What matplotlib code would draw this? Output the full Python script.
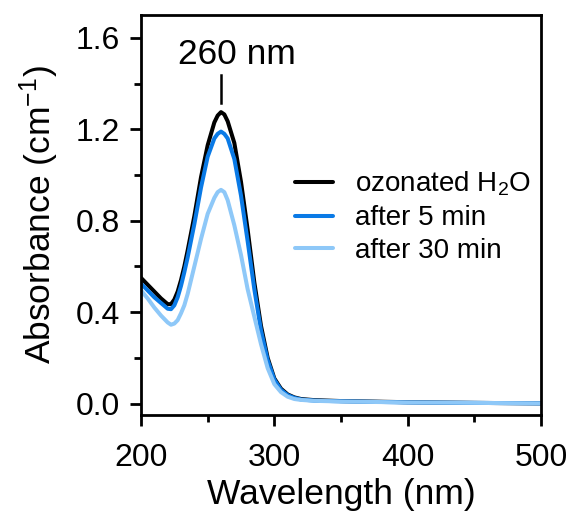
import numpy as np
import matplotlib
matplotlib.use('Agg')
import matplotlib.pyplot as plt

plt.rcParams['font.family'] = ['Liberation Sans', 'DejaVu Sans']
plt.rcParams['mathtext.fontset'] = 'custom'
plt.rcParams['mathtext.rm'] = 'Liberation Sans'
plt.rcParams['mathtext.default'] = 'regular'

# Wavelength grid (nm) and absorbance spectra (cm^-1)
wavelength = [200, 205, 210, 215, 220, 222.5, 225, 227.5, 230, 232.5, 235, 240,
              245, 250, 255, 257.5, 260, 262.5, 265, 270, 275, 280, 285, 290,
              295, 300, 305, 310, 315, 320, 330, 350, 400, 450, 500]
abs_ozonated = [0.55, 0.52, 0.49, 0.46, 0.435, 0.435, 0.455, 0.49, 0.54, 0.60,
                0.67, 0.82, 0.99, 1.13, 1.23, 1.26, 1.275, 1.265, 1.235, 1.14,
                0.97, 0.76, 0.53, 0.34, 0.20, 0.11, 0.065, 0.04, 0.027, 0.02,
                0.015, 0.011, 0.006, 0.003, 0.001]
abs_5min = [0.525, 0.495, 0.465, 0.44, 0.415, 0.413, 0.43, 0.465, 0.515, 0.575,
            0.64, 0.785, 0.945, 1.08, 1.16, 1.18, 1.19, 1.18, 1.16, 1.07,
            0.91, 0.71, 0.50, 0.32, 0.19, 0.105, 0.06, 0.037, 0.025, 0.018,
            0.013, 0.01, 0.005, 0.003, 0.001]
abs_30min = [0.495, 0.46, 0.42, 0.385, 0.355, 0.345, 0.35, 0.365, 0.395, 0.43,
             0.48, 0.60, 0.72, 0.83, 0.90, 0.925, 0.935, 0.925, 0.89, 0.78,
             0.65, 0.50, 0.38, 0.26, 0.155, 0.085, 0.05, 0.03, 0.02, 0.016,
             0.012, 0.009, 0.005, 0.003, 0.001]

labels = ['ozonated H$_2$O', 'after 5 min', 'after 30 min']
colors = ['#000000', '#0a7ae6', '#8ec8f8']

fig = plt.figure(figsize=(5.76, 5.18), dpi=100)
ax = fig.add_axes([141 / 576, 1 - 415 / 518, 400 / 576, 400 / 518])

for y, lab, c in zip([abs_ozonated, abs_5min, abs_30min], labels, colors):
    ax.plot(wavelength, y, color=c, lw=2.9, label=lab,
            solid_joinstyle='round', solid_capstyle='round')

ax.set_xlim(200, 500)
ax.set_ylim(-0.05, 1.70)
ax.set_xticks([200, 300, 400, 500])
ax.set_xticks([250, 350, 450], minor=True)
ax.set_yticks([0.0, 0.4, 0.8, 1.2, 1.6])
ax.set_yticks([0.2, 0.6, 1.0, 1.4], minor=True)
ax.set_yticklabels(['0.0', '0.4', '0.8', '1.2', '1.6'])

for s in ax.spines.values():
    s.set_linewidth(2.0)
ax.tick_params(which='major', direction='out', length=8, width=2.0, labelsize=23)
ax.tick_params(axis='x', which='major', pad=12)
ax.tick_params(axis='y', which='major', pad=7)
ax.tick_params(which='minor', direction='out', length=5, width=2.0)

ax.set_xlabel('Wavelength (nm)', fontsize=25.5, labelpad=4)
ax.set_ylabel('Absorbance (cm$^{-1}$)', fontsize=25.5, labelpad=11)

# peak marker
ax.plot([260, 260], [1.316, 1.438], color='black', lw=1.8)
ax.text(272, 1.486, '260 nm', fontsize=25.5, ha='center', va='baseline')

leg = ax.legend(loc='center left', bbox_to_anchor=(0.385, 0.495), frameon=False,
                fontsize=20, handlelength=1.37, handletextpad=0.79,
                labelspacing=0.25, borderpad=0, borderaxespad=0)

fig.savefig('out.png', dpi=100)
